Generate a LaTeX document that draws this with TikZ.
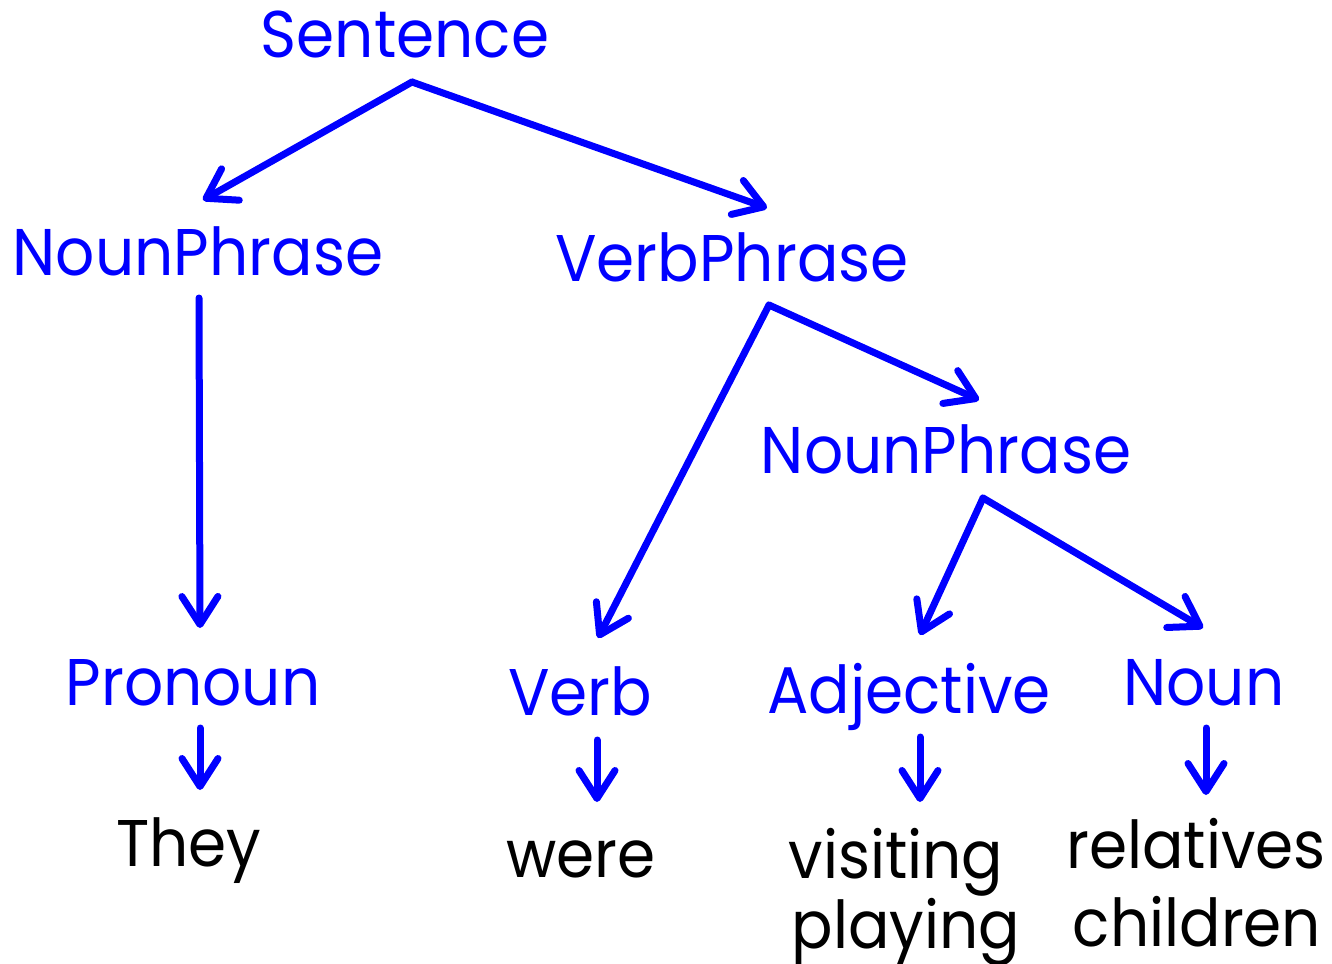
\documentclass[tikz,border=0pt]{standalone}
\usepackage{fontspec}
\setmainfont{Poppins}[FakeStretch=0.93]
\usetikzlibrary{arrows.meta}
\definecolor{tblue}{RGB}{0,0,255}
\begin{document}
\begin{tikzpicture}[x=1pt,y=-1pt,
  cat/.style={text=tblue,inner sep=0pt,anchor=base,font=\fontsize{66}{72}\selectfont},
  word/.style={text=black,inner sep=0pt,anchor=base,font=\fontsize{66}{72}\selectfont},
  edge/.style={draw=tblue,line width=7pt,line cap=round,
    -{Straight Barb[length=28pt,width=36pt,round]}}]
\useasboundingbox (0,0) rectangle (1332,963);
\node[cat] (S) at (405,58) {Sentence};
\node[cat] (NP1) at (198,275) {NounPhrase};
\node[cat] (VP) at (732,281) {VerbPhrase};
\node[cat] (NP2) at (946,473) {NounPhrase};
\node[cat] (PRO) at (193,705) {Pronoun};
\node[cat] (V) at (580,715) {Verb};
\node[cat] (ADJ) at (909,713) {Adjective};
\node[cat] (N) at (1204,705) {Noun};
\node[word] (THEY) at (189,866) {They};
\node[word] (WERE) at (581,877) {were};
\node[word] (VIS) at (896,878) {visiting};
\node[word] (PLAY) at (906,948) {playing};
\node[word] (REL) at (1196,868) {relatives};
\node[word] (CHI) at (1197,946) {children};
% connector ends
\coordinate (s-o) at (412,82);
\coordinate (np1-i) at (203,200);
\coordinate (vp-i) at (767,208);
\coordinate (np1-o) at (199,298);
\coordinate (pro-i) at (200,628);
\coordinate (vp-o) at (769,305);
\coordinate (v-i) at (598,638);
\coordinate (np2-i) at (979,400);
\coordinate (np2-o) at (983,498);
\coordinate (adj-i) at (920,635);
\coordinate (n-i) at (1203,628);
\coordinate (pro-o) at (200,728);
\coordinate (they-i) at (200,790);
\coordinate (v-o) at (597,740);
\coordinate (were-i) at (597,802);
\coordinate (adj-o) at (920,737);
\coordinate (vis-i) at (920,802);
\coordinate (n-o) at (1206,728);
\coordinate (rel-i) at (1206,795);
\draw[edge] (s-o) -- (np1-i);
\draw[edge] (s-o) -- (vp-i);
\draw[edge] (np1-o) -- (pro-i);
\draw[edge] (vp-o) -- (v-i);
\draw[edge] (vp-o) -- (np2-i);
\draw[edge] (np2-o) -- (adj-i);
\draw[edge] (np2-o) -- (n-i);
\draw[edge] (pro-o) -- (they-i);
\draw[edge] (v-o) -- (were-i);
\draw[edge] (adj-o) -- (vis-i);
\draw[edge] (n-o) -- (rel-i);
\end{tikzpicture}
\end{document}
